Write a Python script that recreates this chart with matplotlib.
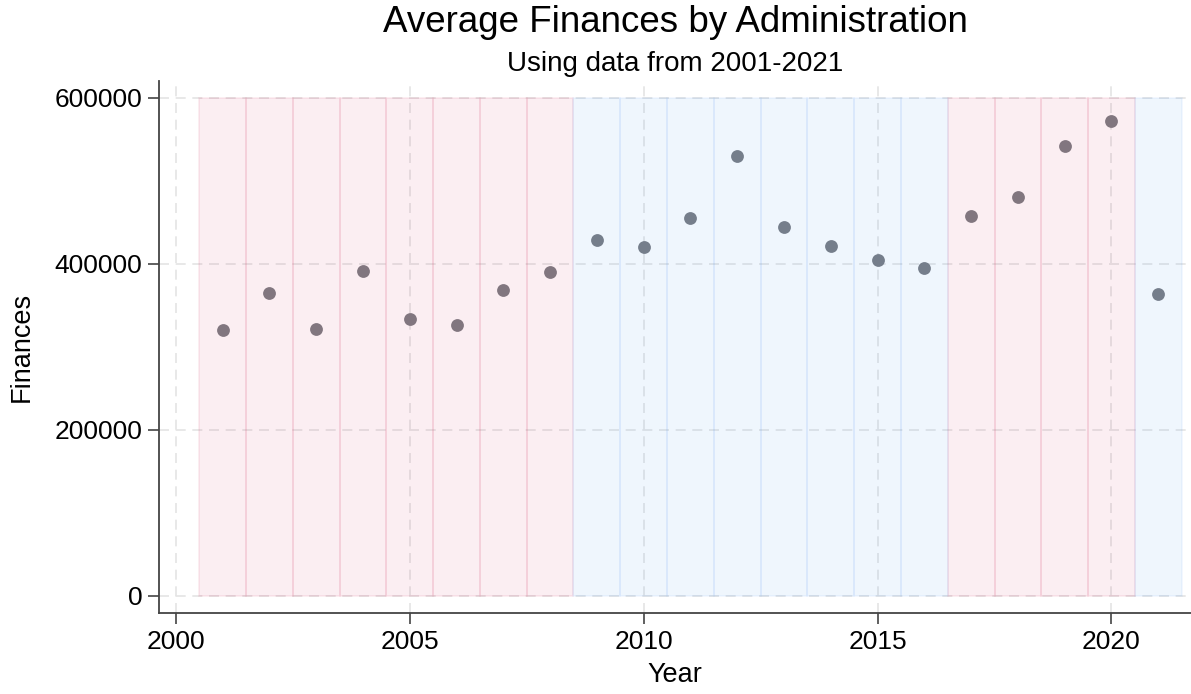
import matplotlib
matplotlib.use("Agg")
import matplotlib.pyplot as plt
from matplotlib.ticker import FuncFormatter

plt.rcParams["font.family"] = ["Liberation Sans", "DejaVu Sans"]

years = list(range(2001, 2022))
finances = [320000, 365000, 321500, 391500, 333700, 326500, 368700, 390000,
            428500, 420000, 455000, 530000, 444500, 421500, 404500, 394500,
            457500, 480000, 542000, 572000, 363500]
party = ["R"] * 8 + ["D"] * 8 + ["R"] * 4 + ["D"]
band_top = 600000

face = {"R": (0.80, 0.17, 0.36, 0.08), "D": (0.22, 0.56, 0.95, 0.08)}
edge = {"R": (0.85, 0.30, 0.45, 0.10), "D": (0.35, 0.60, 0.95, 0.08)}

fig = plt.figure(figsize=(11.91, 6.94), dpi=100)
ax = fig.add_axes([0.1335, 0.1167, 0.8665, 0.7666])

ax.scatter(years, finances, s=85, color="#7b7d83", zorder=2, linewidths=0)
ax.bar(years, [band_top] * len(years), width=1.0,
       color=[face[p] for p in party], edgecolor=[edge[p] for p in party],
       linewidth=1.3, zorder=3)

ax.set_xlim(1999.64, 2021.7)
ax.set_ylim(-20500, 620000)
ax.set_xticks([2000, 2005, 2010, 2015, 2020])
ax.set_yticks([0, 200000, 400000, 600000])
ax.yaxis.set_major_formatter(FuncFormatter(lambda v, p: f"{int(v)}"))

ax.grid(True, color="#e4e4e4", linestyle=(0, (6, 4)), linewidth=1.2, zorder=1)
ax.set_axisbelow(True)

for s in ["top", "right"]:
    ax.spines[s].set_visible(False)
for s in ["left", "bottom"]:
    ax.spines[s].set_color("#444444")
    ax.spines[s].set_linewidth(1.3)

ax.tick_params(axis="both", labelsize=19, length=8, width=1.2,
               color="#444444", pad=4)

ax.set_xlabel("Year", fontsize=19.5, labelpad=6)
ax.set_ylabel("Finances", fontsize=19.5, labelpad=14)

fig.text(0.567, 0.968, "Average Finances by Administration", fontsize=26.5,
         ha="center", va="center")
fig.text(0.567, 0.908, "Using data from 2001-2021", fontsize=20,
         ha="center", va="center")

fig.savefig("out.png", dpi=100)
